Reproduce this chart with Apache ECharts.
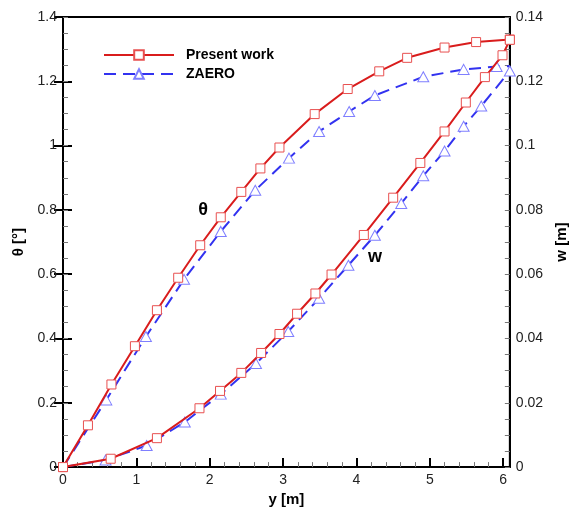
<!DOCTYPE html>
<html>
<head>
<meta charset="utf-8">
<title>theta / w along span</title>
<script src="https://cdn.jsdelivr.net/npm/echarts@6/dist/echarts.min.js"></script>
<style>
  html, body { margin: 0; padding: 0; background: #fff; }
  #main { width: 577px; height: 512px; }
</style>
</head>
<body>
<div id="main"></div>
<script>
// data
var thetaPresentY = [0, 0.34, 0.66, 0.98, 1.28, 1.57, 1.87, 2.15, 2.43, 2.69, 2.95, 3.43, 3.88, 4.31, 4.69, 5.20, 5.63, 6.09];
var thetaPresent = [0, 0.130, 0.257, 0.376, 0.488, 0.589, 0.690, 0.777, 0.856, 0.929, 0.994, 1.098, 1.176, 1.231, 1.273, 1.305, 1.322, 1.330];

var thetaZaeroY = [0, 0.59, 1.13, 1.65, 2.15, 2.62, 3.08, 3.49, 3.90, 4.25, 4.91, 5.46, 5.91, 6.09];
var thetaZaero = [0, 0.209, 0.406, 0.584, 0.733, 0.861, 0.961, 1.044, 1.106, 1.156, 1.214, 1.237, 1.246, 1.247];

var wPresentY = [0, 0.65, 1.28, 1.86, 2.14, 2.43, 2.70, 2.95, 3.19, 3.44, 3.66, 4.10, 4.50, 4.87, 5.20, 5.49, 5.75, 5.99, 6.09];
var wPresent = [0, 0.0026, 0.0090, 0.0183, 0.0237, 0.0293, 0.0355, 0.0414, 0.0477, 0.0540, 0.0599, 0.0722, 0.0838, 0.0946, 0.1044, 0.1134, 0.1213, 0.1281, 0.1329];

var wZaeroY = [0, 0.58, 1.14, 1.66, 2.15, 2.63, 3.07, 3.49, 3.89, 4.25, 4.61, 4.91, 5.20, 5.46, 5.70, 6.09];
var wZaero = [0, 0.0022, 0.0067, 0.0140, 0.0227, 0.0322, 0.0422, 0.0525, 0.0628, 0.0721, 0.0820, 0.0906, 0.0983, 0.1060, 0.1123, 0.1232];

var yMax = 6.09;
var font = "'Liberation Sans', Arial, sans-serif";

function pairs(xs, vs) {
    return xs.map(function (x, i) { return [x, vs[i]]; });
}
// no triangle drawn on the listed indices
function pairsHide(xs, vs, hide) {
    return xs.map(function (x, i) {
        if (hide.indexOf(i) >= 0) return { value: [x, vs[i]], symbol: 'none' };
        return [x, vs[i]];
    });
}

var myChart = echarts.init(document.getElementById('main'));

var redLine = { color: '#d91c1c', width: 2 };
var redMark = { color: '#fff', borderColor: '#e85050', borderWidth: 1 };
var blueLine = { color: '#3232f0', width: 2, type: [12, 7] };
var blueMark = { color: '#fff', borderColor: '#7f7fff', borderWidth: 1 };

var axisLine = { show: true, lineStyle: { color: '#000', width: 2 } };
var majorTick = { show: true, inside: true, length: 9, lineStyle: { color: '#000', width: 2 } };
var smallTick = { show: true, inside: true, length: 5, lineStyle: { color: '#777', width: 1 } };
var nameStyle = { fontFamily: font, fontWeight: 'bold', fontSize: 15, color: '#000' };
var labelStyle = { margin: 6, fontSize: 14, color: '#222', fontFamily: font };

// an extra axis that only carries the small ticks
function minorAxis(pos, max, step) {
    return {
        type: 'value', position: pos, min: 0, max: max, interval: step,
        axisLine: axisLine, axisTick: smallTick,
        axisLabel: { show: false }, splitLine: { show: false }
    };
}

var option = {
    animation: false,
    textStyle: { fontFamily: font },
    grid: {
        left: 63, right: 60, top: 17, bottom: 41,
        show: true, borderColor: '#000', borderWidth: 2
    },
    legend: {
        data: ['Present work', 'ZAERO'],
        orient: 'vertical',
        left: 103, top: 48,
        padding: 0,
        itemWidth: 70, itemHeight: 12, itemGap: 5,
        textStyle: { fontFamily: font, fontWeight: 'bold', fontSize: 14, color: '#000', padding: [0, 0, 0, 7] }
    },
    xAxis: [
        minorAxis('bottom', yMax, 0.2),
        {
            type: 'value', position: 'bottom',
            min: 0, max: yMax, interval: 1,
            name: 'y [m]', nameLocation: 'middle', nameGap: 24, nameTextStyle: nameStyle,
            axisLine: axisLine, axisTick: majorTick,
            axisLabel: Object.assign({}, labelStyle, {
                formatter: function (v) { return Math.abs(v - Math.round(v)) < 1e-6 ? String(Math.round(v)) : ''; }
            }),
            splitLine: { show: false }
        }
    ],
    yAxis: [
        {
            type: 'value', position: 'left',
            min: 0, max: 1.4, interval: 0.2,
            name: 'θ [°]', nameLocation: 'middle', nameGap: 36, nameTextStyle: nameStyle,
            axisLine: axisLine, axisTick: majorTick,
            axisLabel: labelStyle, splitLine: { show: false }
        },
        {
            type: 'value', position: 'right',
            min: 0, max: 0.14, interval: 0.02,
            name: 'w [m]', nameLocation: 'middle', nameGap: 38, nameTextStyle: nameStyle,
            axisLine: axisLine, axisTick: majorTick,
            axisLabel: labelStyle, splitLine: { show: false }
        },
        minorAxis('left', 1.4, 0.05),
        minorAxis('right', 0.14, 0.005)
    ],
    series: [
        {
            name: 'Present work', type: 'line', xAxisIndex: 0, yAxisIndex: 0,
            data: pairs(thetaPresentY, thetaPresent),
            symbol: 'rect', symbolSize: 9, showAllSymbol: true,
            lineStyle: redLine, itemStyle: redMark, z: 3
        },
        {
            name: 'ZAERO', type: 'line', xAxisIndex: 0, yAxisIndex: 0,
            data: pairsHide(thetaZaeroY, thetaZaero, [0, thetaZaeroY.length - 1]),
            symbol: 'triangle', symbolSize: [11, 10], showAllSymbol: true,
            lineStyle: blueLine, itemStyle: blueMark, z: 2
        },
        {
            name: 'Present work', type: 'line', xAxisIndex: 0, yAxisIndex: 1,
            data: pairs(wPresentY, wPresent),
            symbol: 'rect', symbolSize: 9, showAllSymbol: true,
            lineStyle: redLine, itemStyle: redMark, z: 3
        },
        {
            name: 'ZAERO', type: 'line', xAxisIndex: 0, yAxisIndex: 1,
            data: pairsHide(wZaeroY, wZaero, [0]),
            symbol: 'triangle', symbolSize: [11, 10], showAllSymbol: true,
            lineStyle: blueLine, itemStyle: blueMark, z: 2
        }
    ],
    graphic: [
        { type: 'text', x: 203, y: 210, style: { text: 'θ', font: 'bold 18px ' + font, fill: '#000', align: 'center', verticalAlign: 'middle' } },
        { type: 'text', x: 375, y: 257, style: { text: 'w', font: 'bold 18px ' + font, fill: '#000', align: 'center', verticalAlign: 'middle' } }
    ]
};

myChart.setOption(option);
</script>
</body>
</html>
